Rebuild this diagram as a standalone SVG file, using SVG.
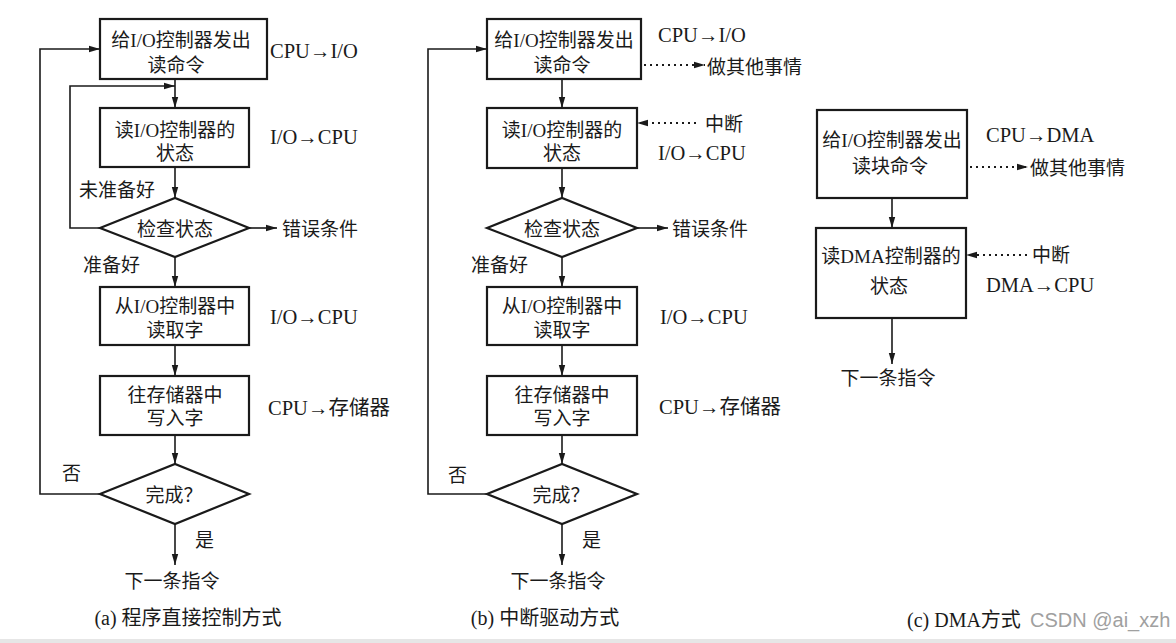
<svg xmlns="http://www.w3.org/2000/svg" width="1176" height="643" viewBox="0 0 1176 643">
<defs>
<marker id="ah" markerUnits="userSpaceOnUse" markerWidth="12" markerHeight="8" refX="11" refY="4" orient="auto">
<path d="M0,0.8 L11,4 L0,7.2 z" fill="#1a1a1a"/>
</marker>
<style>
.box{fill:none;stroke:#1a1a1a;stroke-width:2.2}
.ln{fill:none;stroke:#1a1a1a;stroke-width:1.6}
.dot{fill:none;stroke:#1a1a1a;stroke-width:2;stroke-dasharray:2 4}
text{font-family:"Liberation Serif","Noto Sans CJK SC",serif;font-size:19px;fill:#1a1a1a}
.c{text-anchor:middle}
.cap{font-size:20px}
.lt{font-size:20.5px}
.wm{font-family:"Liberation Sans","Noto Sans",sans-serif;font-size:20px;fill:#a0a0a0}
</style>
</defs>
<rect width="1176" height="643" fill="#ffffff"/>
<rect x="0" y="639" width="1176" height="4" fill="#e6e6e6"/>

<!-- Panel (a) -->
<g id="a-send">
<rect class="box" x="100" y="19" width="167" height="60"/>
<text class="c" x="181" y="47">给I/O控制器发出</text>
<text class="c" x="176" y="72">读命令</text>
</g>
<g id="a-read">
<rect class="box" x="100" y="108" width="149" height="59"/>
<text class="c" x="175" y="137">读I/O控制器的</text>
<text class="c" x="175" y="160">状态</text>
</g>
<g id="a-check">
<polygon class="box" points="100,228 175,198 249,228 175,257"/>
<text class="c" x="175" y="236">检查状态</text>
</g>
<g id="a-fetch">
<rect class="box" x="100" y="287" width="149" height="58"/>
<text class="c" x="175" y="313">从I/O控制器中</text>
<text class="c" x="175" y="337">读取字</text>
</g>
<g id="a-write">
<rect class="box" x="100" y="376" width="149" height="59"/>
<text class="c" x="175" y="402">往存储器中</text>
<text class="c" x="175" y="425">写入字</text>
</g>
<g id="a-done">
<polygon class="box" points="100,494 175,464 249,494 175,524"/>
<text class="c" x="174" y="502">完成？</text>
</g>
<g id="a-labels">
<text class="lt" x="270" y="58">CPU→I/O</text>
<text class="lt" x="270" y="144">I/O→CPU</text>
<text x="79" y="197">未准备好</text>
<text x="282" y="236">错误条件</text>
<text x="83" y="272">准备好</text>
<text class="lt" x="270" y="324">I/O→CPU</text>
<text class="lt" x="268" y="415">CPU→存储器</text>
<text x="62" y="480">否</text>
<text x="195" y="547">是</text>
<text class="c" x="172" y="588">下一条指令</text>
<text class="c cap" x="188" y="625">(a) 程序直接控制方式</text>
</g>

<!-- Panel (b) -->
<g id="b-send">
<rect class="box" x="487" y="19" width="154" height="60"/>
<text class="c" x="564" y="47">给I/O控制器发出</text>
<text class="c" x="562" y="72">读命令</text>
</g>
<g id="b-read">
<rect class="box" x="487" y="108" width="150" height="60"/>
<text class="c" x="562" y="137">读I/O控制器的</text>
<text class="c" x="562" y="160">状态</text>
</g>
<g id="b-check">
<polygon class="box" points="487,228 562,198 637,228 562,257"/>
<text class="c" x="562" y="236">检查状态</text>
</g>
<g id="b-fetch">
<rect class="box" x="487" y="287" width="150" height="58"/>
<text class="c" x="562" y="313">从I/O控制器中</text>
<text class="c" x="562" y="337">读取字</text>
</g>
<g id="b-write">
<rect class="box" x="487" y="376" width="150" height="59"/>
<text class="c" x="562" y="402">往存储器中</text>
<text class="c" x="562" y="425">写入字</text>
</g>
<g id="b-done">
<polygon class="box" points="487,494 562,464 637,494 562,524"/>
<text class="c" x="561" y="502">完成？</text>
</g>
<g id="b-labels">
<text class="lt" x="658" y="42">CPU→I/O</text>
<text x="707" y="74">做其他事情</text>
<text x="705" y="131">中断</text>
<text class="lt" x="658" y="160">I/O→CPU</text>
<text x="672" y="236">错误条件</text>
<text x="471" y="272">准备好</text>
<text class="lt" x="660" y="324">I/O→CPU</text>
<text class="lt" x="659" y="414">CPU→存储器</text>
<text x="448" y="482">否</text>
<text x="582" y="547">是</text>
<text class="c" x="558" y="588">下一条指令</text>
<text class="c cap" x="545" y="625">(b) 中断驱动方式</text>
</g>

<!-- Panel (c) -->
<g id="c-send">
<rect class="box" x="817" y="110" width="150" height="88"/>
<text class="c" x="892" y="147">给I/O控制器发出</text>
<text class="c" x="890" y="173">读块命令</text>
</g>
<g id="c-read">
<rect class="box" x="816" y="228" width="150" height="90"/>
<text class="c" x="891" y="263">读DMA控制器的</text>
<text class="c" x="889" y="293">状态</text>
</g>
<g id="c-labels">
<text class="lt" x="986" y="142">CPU→DMA</text>
<text x="1030" y="175">做其他事情</text>
<text x="1032" y="262">中断</text>
<text class="lt" x="986" y="292">DMA→CPU</text>
<text class="c" x="888" y="385">下一条指令</text>
<text class="cap" x="907" y="627">(c) DMA方式</text>
<text class="wm" x="1030" y="627">CSDN @ai_xzh</text>
</g>

<!-- Connectors -->
<g id="connectors">
<line class="ln" x1="175" y1="79" x2="175" y2="108" marker-end="url(#ah)"/>
<polyline class="ln" points="100,228 70,228 70,86 175,86" marker-end="url(#ah)"/>
<line class="ln" x1="175" y1="167" x2="175" y2="198" marker-end="url(#ah)"/>
<line class="ln" x1="249" y1="228" x2="277" y2="228" marker-end="url(#ah)"/>
<line class="ln" x1="175" y1="257" x2="175" y2="287" marker-end="url(#ah)"/>
<line class="ln" x1="175" y1="345" x2="175" y2="376" marker-end="url(#ah)"/>
<line class="ln" x1="175" y1="435" x2="175" y2="464" marker-end="url(#ah)"/>
<polyline class="ln" points="100,494 40,494 40,49 100,49" marker-end="url(#ah)"/>
<line class="ln" x1="175" y1="524" x2="175" y2="565" marker-end="url(#ah)"/>

<line class="ln" x1="562" y1="79" x2="562" y2="108" marker-end="url(#ah)"/>
<line class="ln" x1="562" y1="168" x2="562" y2="198" marker-end="url(#ah)"/>
<line class="ln" x1="637" y1="228" x2="668" y2="228" marker-end="url(#ah)"/>
<line class="ln" x1="562" y1="257" x2="562" y2="287" marker-end="url(#ah)"/>
<line class="ln" x1="562" y1="345" x2="562" y2="376" marker-end="url(#ah)"/>
<line class="ln" x1="562" y1="435" x2="562" y2="464" marker-end="url(#ah)"/>
<polyline class="ln" points="487,494 428,494 428,49 487,49" marker-end="url(#ah)"/>
<line class="ln" x1="562" y1="524" x2="562" y2="565" marker-end="url(#ah)"/>
<line class="dot" x1="644" y1="65" x2="705" y2="65" marker-end="url(#ah)"/>
<line class="dot" x1="696" y1="123" x2="637" y2="123" marker-end="url(#ah)"/>

<line class="ln" x1="892" y1="198" x2="892" y2="228" marker-end="url(#ah)"/>
<line class="ln" x1="892" y1="318" x2="892" y2="364" marker-end="url(#ah)"/>
<line class="dot" x1="970" y1="167" x2="1028" y2="167" marker-end="url(#ah)"/>
<line class="dot" x1="1027" y1="255" x2="966" y2="255" marker-end="url(#ah)"/>
</g>
</svg>
